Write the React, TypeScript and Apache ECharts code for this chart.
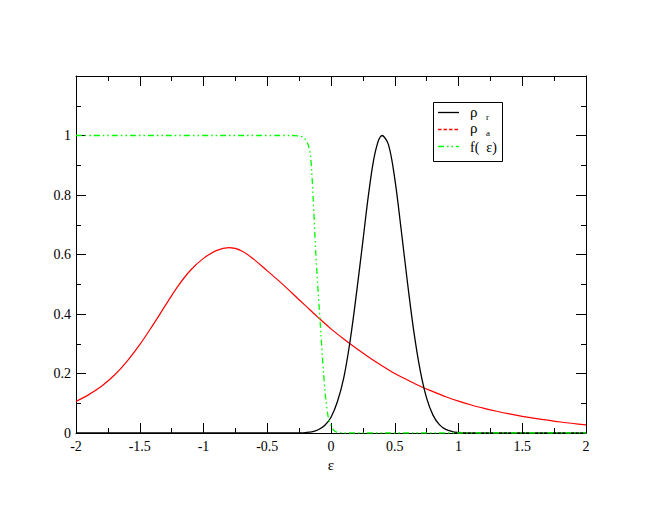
import React, { useEffect, useRef } from "react";
import * as echarts from "echarts";

// ρ_a (red)
const epsA = [-2, -1.9, -1.8, -1.7, -1.6, -1.5, -1.4, -1.3, -1.2, -1.1, -1, -0.9, -0.8, -0.7, -0.6, -0.5, -0.4, -0.3, -0.2, -0.1, 0, 0.1, 0.2, 0.3, 0.4, 0.5, 0.6, 0.7, 0.8, 0.9, 1, 1.1, 1.2, 1.3, 1.4, 1.5, 1.6, 1.7, 1.8, 1.9, 2];
const rhoA = [0.106, 0.129, 0.157, 0.194, 0.241, 0.297, 0.361, 0.428, 0.494, 0.548, 0.587, 0.613, 0.623, 0.612, 0.582, 0.545, 0.508, 0.468, 0.428, 0.388, 0.35, 0.316, 0.284, 0.254, 0.226, 0.2, 0.178, 0.157, 0.139, 0.122, 0.107, 0.094, 0.083, 0.073, 0.064, 0.056, 0.049, 0.043, 0.037, 0.032, 0.027];

// ρ_r (black)
const epsR = [-2, -0.4, -0.3, -0.25, -0.2, -0.15, -0.1, -0.05, 0, 0.05, 0.1, 0.15, 0.2, 0.25, 0.3, 0.35, 0.4, 0.45, 0.5, 0.55, 0.6, 0.65, 0.7, 0.75, 0.8, 0.85, 0.9, 0.95, 1, 1.05, 1.1, 2];
const rhoR = [0, 0, 0.0002, 0.0005, 0.0015, 0.004, 0.011, 0.025, 0.053, 0.105, 0.185, 0.31, 0.47, 0.645, 0.82, 0.95, 1.0, 0.97, 0.855, 0.685, 0.505, 0.34, 0.21, 0.117, 0.06, 0.028, 0.012, 0.005, 0.002, 0.0005, 0, 0];

// f(ε) (green)
const epsF = [-2, -0.3, -0.25, -0.22, -0.2, -0.18, -0.16, -0.14, -0.12, -0.1, -0.08, -0.06, -0.04, -0.02, 0, 0.02, 0.04, 0.07, 0.1, 2];
const fermi = [1, 1, 0.998, 0.995, 0.985, 0.97, 0.93, 0.79, 0.61, 0.47, 0.34, 0.21, 0.11, 0.05, 0.025, 0.01, 0.004, 0.001, 0, 0];

const xTicks = { min: -2, max: 2, interval: 0.5 };
const yTicks = { min: 0, max: 1.2, interval: 0.2 };

const FONT = "Liberation Serif";
const greenDash = [6, 3, 1.5, 3, 1.5, 3];

const pairs = (xs: number[], ys: number[]) => xs.map((x, i) => [x, ys[i]]);

export default function App() {
  const ref = useRef<HTMLDivElement>(null);
  useEffect(() => {
    if (!ref.current) return;
    const chart = echarts.init(ref.current, undefined, { renderer: "svg" });
    const axisCommon = {
      type: "value" as const,
      axisLine: { show: true, onZero: false, lineStyle: { color: "#000", width: 1 } },
      axisTick: { show: true, inside: true, length: 10, lineStyle: { color: "#000", width: 1 } },
      minorTick: { show: true, splitNumber: 2, length: 5, lineStyle: { color: "#000", width: 1 } },
      splitLine: { show: false },
      minorSplitLine: { show: false },
    };
    chart.setOption({
      animation: false,
      backgroundColor: "#fff",
      textStyle: { fontFamily: FONT },
      grid: { left: 76, right: 74, top: 76, bottom: 77, containLabel: false },
      xAxis: [
        {
          ...axisCommon,
          ...xTicks,
          position: "bottom",
          axisLabel: { color: "#000", fontSize: 14, fontFamily: FONT, margin: 6 },
          name: "ε",
          nameLocation: "middle",
          nameGap: 15,
          nameTextStyle: { color: "#000", fontSize: 15, fontFamily: FONT },
        },
        {
          ...axisCommon,
          ...xTicks,
          position: "top",
          axisLabel: { show: false },
        },
      ],
      yAxis: [
        {
          ...axisCommon,
          ...yTicks,
          position: "left",
          axisLabel: {
            color: "#000",
            fontSize: 14,
            fontFamily: FONT,
            margin: 5,
            formatter: (v: number) => (v > 1.1 ? "" : String(parseFloat(v.toFixed(1)))),
          },
        },
        {
          ...axisCommon,
          ...yTicks,
          position: "right",
          axisLabel: { show: false },
        },
      ],
      series: [
        {
          name: "ρa",
          type: "line",
          data: pairs(epsA, rhoA),
          showSymbol: false,
          smooth: 0.35,
          lineStyle: { color: "#ff0000", width: 1.2 },
          xAxisIndex: 0,
          yAxisIndex: 0,
        },
        {
          name: "ρr",
          type: "line",
          data: pairs(epsR, rhoR),
          showSymbol: false,
          smooth: 0.35,
          lineStyle: { color: "#000000", width: 1.3 },
          xAxisIndex: 0,
          yAxisIndex: 0,
        },
        {
          name: "f(ε)",
          type: "line",
          data: pairs(epsF, fermi),
          showSymbol: false,
          smooth: 0.3,
          lineStyle: { color: "#00ff00", width: 1.3, type: greenDash },
          xAxisIndex: 0,
          yAxisIndex: 0,
        },
      ],
      graphic: [
        {
          type: "rect",
          shape: { x: 433.5, y: 102.5, width: 69, height: 59 },
          style: { fill: "#fff", stroke: "#000", lineWidth: 1 },
          z: 100,
        },
        {
          type: "line",
          shape: { x1: 438, y1: 112.5, x2: 459, y2: 112.5 },
          style: { stroke: "#000", lineWidth: 1.3 },
          z: 101,
        },
        {
          type: "line",
          shape: { x1: 438, y1: 129.5, x2: 459, y2: 129.5 },
          style: { stroke: "#ff0000", lineWidth: 1.3, lineDash: [3.5, 2] },
          z: 101,
        },
        {
          type: "line",
          shape: { x1: 438, y1: 146.5, x2: 459, y2: 146.5 },
          style: { stroke: "#00ff00", lineWidth: 1.3, lineDash: greenDash },
          z: 101,
        },
        {
          type: "text",
          x: 470,
          y: 112,
          style: { text: "ρ", fill: "#000", font: `15px ${FONT}`, verticalAlign: "middle" },
          z: 101,
        },
        {
          type: "text",
          x: 486,
          y: 117,
          style: { text: "r", fill: "#000", font: `9px ${FONT}`, verticalAlign: "middle" },
          z: 101,
        },
        {
          type: "text",
          x: 470,
          y: 128,
          style: { text: "ρ", fill: "#000", font: `15px ${FONT}`, verticalAlign: "middle" },
          z: 101,
        },
        {
          type: "text",
          x: 486,
          y: 133,
          style: { text: "a", fill: "#000", font: `9px ${FONT}`, verticalAlign: "middle" },
          z: 101,
        },
        {
          type: "text",
          x: 470,
          y: 147,
          style: { text: "f(  ε)", fill: "#000", font: `14px ${FONT}`, verticalAlign: "middle" },
          z: 101,
        },
      ],
    });
    return () => chart.dispose();
  }, []);
  return (
    <div
      ref={ref}
      style={{ position: "fixed", left: 0, top: 0, width: 660, height: 510, background: "#fff" }}
    />
  );
}
